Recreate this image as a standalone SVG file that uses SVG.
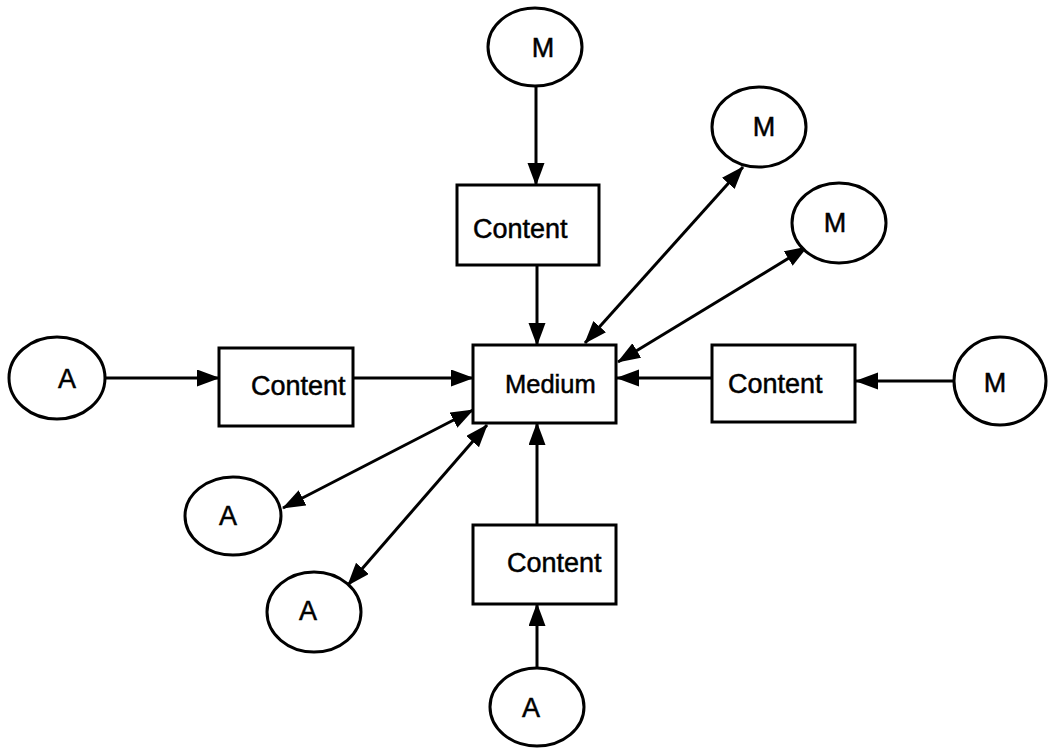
<svg xmlns="http://www.w3.org/2000/svg" width="1049" height="748" viewBox="0 0 1049 748">
<style>
.n{fill:#fff;stroke:#000;stroke-width:3}
.t{font-family:"Liberation Sans",Arial,sans-serif;font-size:27px;fill:#000;stroke:#000;stroke-width:0.5}
.c line{stroke:#000;stroke-width:3}
</style>
<defs>
<marker id="ah" markerUnits="userSpaceOnUse" markerWidth="24" markerHeight="18" refX="22" refY="8.5" orient="auto-start-reverse">
<path d="M0,0 L23,8.5 L0,17 z" fill="#000"/>
</marker>
</defs>
<rect width="1049" height="748" fill="#fff"/>
<g class="c" id="connectors">
<line x1="536" y1="86" x2="536" y2="185" marker-end="url(#ah)"/>
<line x1="537" y1="265" x2="537" y2="345" marker-end="url(#ah)"/>
<line x1="105" y1="378" x2="219" y2="378" marker-end="url(#ah)"/>
<line x1="353" y1="378" x2="473" y2="378" marker-end="url(#ah)"/>
<line x1="954" y1="381" x2="856" y2="381" marker-end="url(#ah)"/>
<line x1="712" y1="378" x2="617" y2="378" marker-end="url(#ah)"/>
<line x1="537" y1="668" x2="537" y2="604" marker-end="url(#ah)"/>
<line x1="537" y1="525" x2="537" y2="423" marker-end="url(#ah)"/>
<line x1="585" y1="343" x2="743" y2="167" marker-start="url(#ah)" marker-end="url(#ah)"/>
<line x1="618" y1="362" x2="807" y2="247" marker-start="url(#ah)" marker-end="url(#ah)"/>
<line x1="473" y1="410" x2="283" y2="508" marker-start="url(#ah)" marker-end="url(#ah)"/>
<line x1="487" y1="425" x2="348" y2="585" marker-start="url(#ah)" marker-end="url(#ah)"/>
</g>
<g id="m1"><ellipse class="n" cx="535" cy="47" rx="47" ry="39"/><text class="t" x="543" y="57" text-anchor="middle">M</text></g>
<g id="m2"><ellipse class="n" cx="759" cy="127" rx="47" ry="40"/><text class="t" x="764" y="136" text-anchor="middle">M</text></g>
<g id="m3"><ellipse class="n" cx="839" cy="223" rx="47" ry="40"/><text class="t" x="835" y="232" text-anchor="middle">M</text></g>
<g id="m4"><ellipse class="n" cx="1000" cy="381" rx="46" ry="44"/><text class="t" x="995" y="392" text-anchor="middle">M</text></g>
<g id="a1"><ellipse class="n" cx="57" cy="378" rx="48" ry="41"/><text class="t" x="67" y="388" text-anchor="middle">A</text></g>
<g id="a2"><ellipse class="n" cx="233" cy="516" rx="48" ry="39"/><text class="t" x="228" y="525" text-anchor="middle">A</text></g>
<g id="a3"><ellipse class="n" cx="314" cy="612" rx="47" ry="40"/><text class="t" x="308" y="620" text-anchor="middle">A</text></g>
<g id="a4"><ellipse class="n" cx="537" cy="707" rx="47" ry="39"/><text class="t" x="531" y="717" text-anchor="middle">A</text></g>
<g id="content-top"><rect class="n" x="457" y="185" width="142" height="80"/><text class="t" x="473" y="238">Content</text></g>
<g id="content-left"><rect class="n" x="219" y="348" width="134" height="78"/><text class="t" x="251" y="395">Content</text></g>
<g id="medium"><rect class="n" x="473" y="345" width="143" height="78"/><text class="t" x="505" y="393" style="font-size:25.5px">Medium</text></g>
<g id="content-right"><rect class="n" x="712" y="345" width="143" height="77"/><text class="t" x="728" y="393">Content</text></g>
<g id="content-bottom"><rect class="n" x="473" y="525" width="143" height="79"/><text class="t" x="507" y="572">Content</text></g>
</svg>
